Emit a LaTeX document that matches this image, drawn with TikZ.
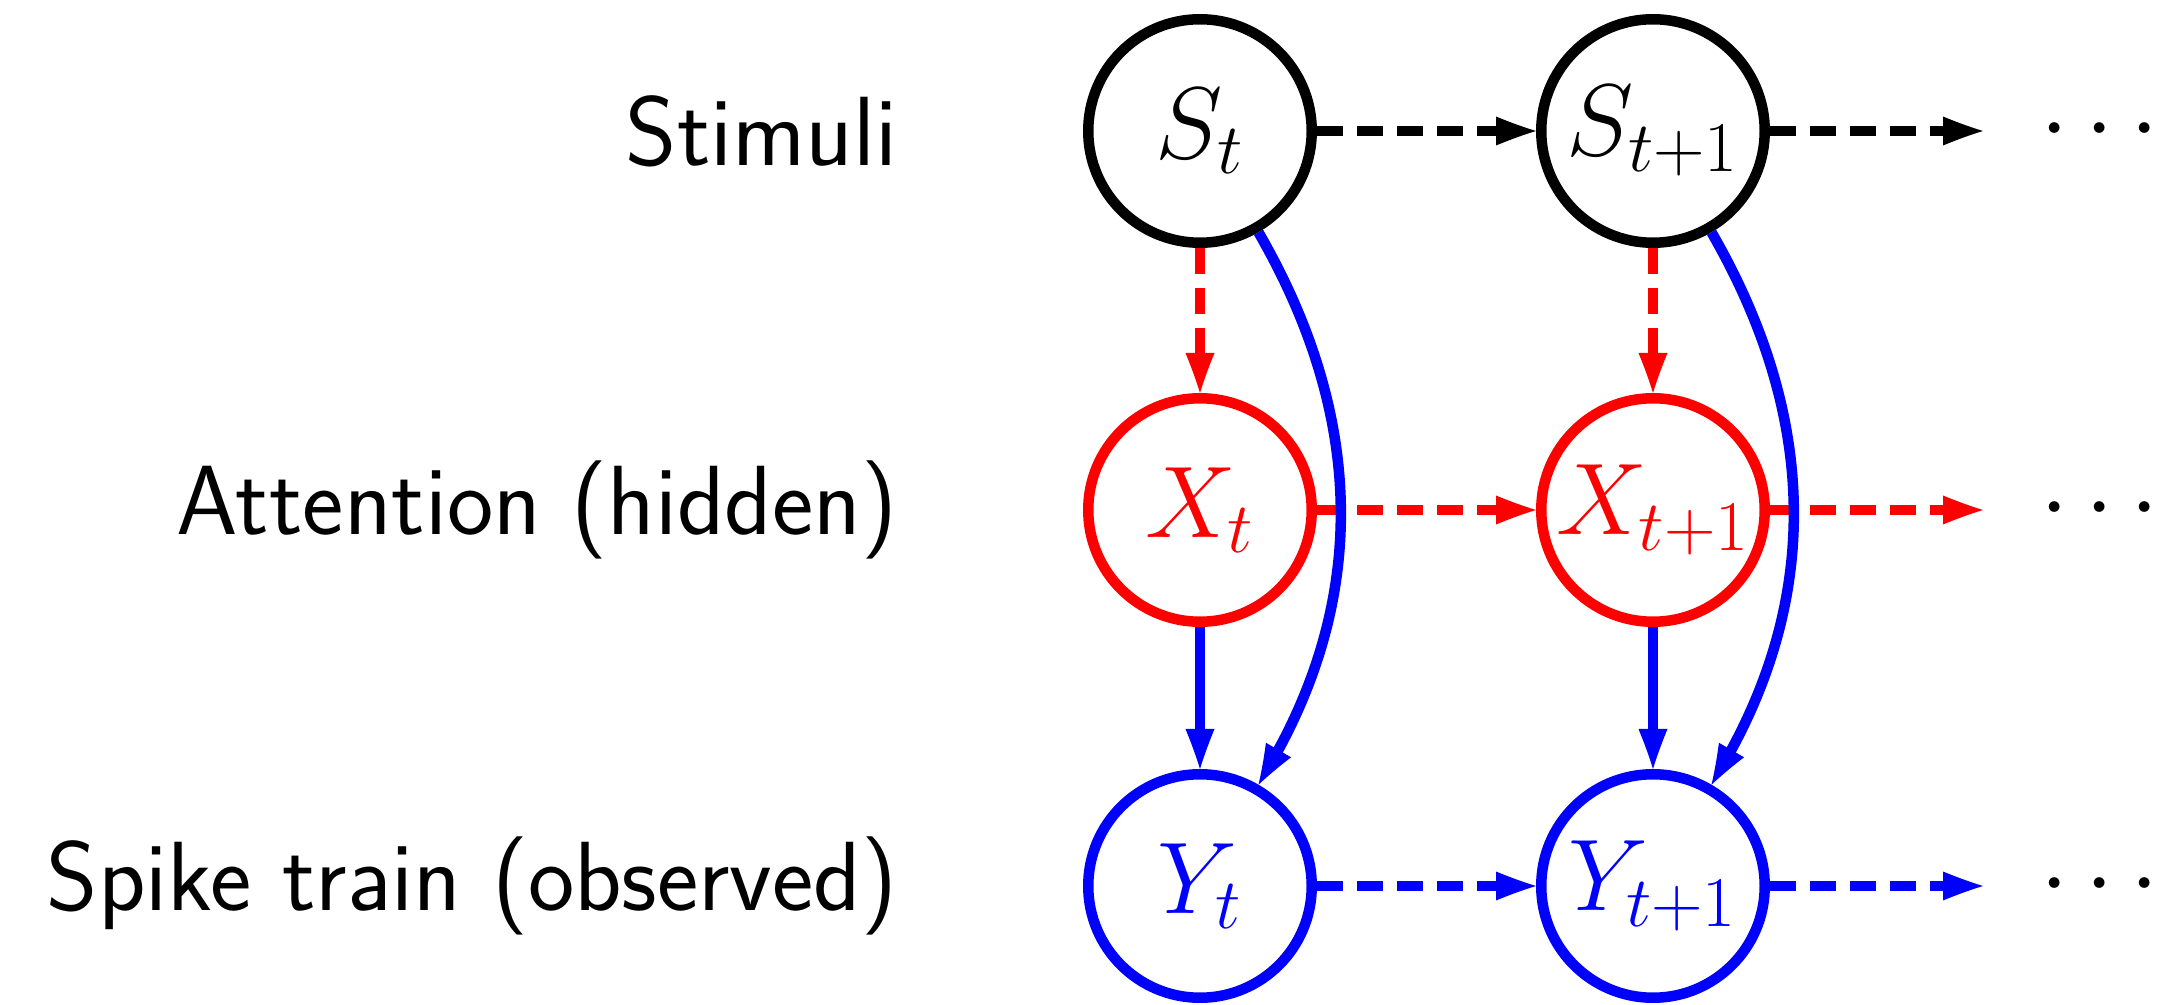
\RequirePackage{fix-cm}
\documentclass[tikz,border=0pt]{standalone}
\usetikzlibrary{arrows.meta}
\pgfdeclarearrow{
  name = ConcaveLatex,
  parameters = {\the\pgfarrowlength,\the\pgfarrowwidth},
  setup code = {
    \pgfarrowssettipend{0pt}
    \pgfarrowssetbackend{-\pgfarrowlength}
    \pgfarrowssetlineend{-.6\pgfarrowlength}
    \pgfarrowssetvisualbackend{-\pgfarrowlength}
    \pgfarrowssavethe\pgfarrowlength
    \pgfarrowssavethe\pgfarrowwidth
  },
  drawing code = {
    \pgfpathmoveto{\pgfqpoint{0pt}{0pt}}
    \pgfpathcurveto{\pgfqpoint{-.333\pgfarrowlength}{.14\pgfarrowwidth}}{\pgfqpoint{-.667\pgfarrowlength}{.31\pgfarrowwidth}}{\pgfqpoint{-\pgfarrowlength}{.5\pgfarrowwidth}}
    \pgfpathlineto{\pgfqpoint{-\pgfarrowlength}{-.5\pgfarrowwidth}}
    \pgfpathcurveto{\pgfqpoint{-.667\pgfarrowlength}{-.31\pgfarrowwidth}}{\pgfqpoint{-.333\pgfarrowlength}{-.14\pgfarrowwidth}}{\pgfqpoint{0pt}{0pt}}
    \pgfpathclose
    \pgfusepathqfill
  },
  defaults = {length=0.40cm, width=0.29cm}
}
\begin{document}
\begin{tikzpicture}[
  var/.style={circle, draw, line width=0.105cm, minimum size=2.235cm, inner sep=0pt, font=\fontsize{29}{35}\selectfont},
  ghost/.style={circle, minimum size=2.235cm, inner sep=0pt, outer sep=0.0525cm, font=\fontsize{29}{35}\selectfont},
  lbl/.style={anchor=east, inner sep=0pt, font=\fontsize{28}{34}\selectfont\sffamily},
  edge/.style={line width=0.105cm, -{ConcaveLatex}},
  dashedge/.style={edge, dash pattern=on 0.26cm off 0.14cm},
]
\useasboundingbox (0,0) rectangle (21.84,10.04);
% nodes
\node[var] (S1) at (12.00,8.73) {$S_t$};
\node[var] (S2) at (16.53,8.73) {$S_{t+1}$};
\node[ghost] (S3) at (21.00,8.73) {$\cdots$};
\node[var, red] (X1) at (12.00,4.94) {$X_t$};
\node[var, red] (X2) at (16.53,4.94) {$X_{t+1}$};
\node[ghost] (X3) at (21.00,4.94) {$\cdots$};
\node[var, blue] (Y1) at (12.00,1.18) {$Y_t$};
\node[var, blue] (Y2) at (16.53,1.18) {$Y_{t+1}$};
\node[ghost] (Y3) at (21.00,1.18) {$\cdots$};
% labels
\node[lbl] (L1) at (8.98,8.73) {Stimuli};
\node[lbl] (L2) at (8.98,4.94) {Attention (hidden)};
\node[lbl] (L3) at (8.98,1.18) {Spike train (observed)};
% edges
\draw[dashedge] (S1) -- (S2);
\draw[dashedge] (S2) -- (S3);
\draw[dashedge, red] (X1) -- (X2);
\draw[dashedge, red] (X2) -- (X3);
\draw[dashedge, blue] (Y1) -- (Y2);
\draw[dashedge, blue] (Y2) -- (Y3);
\draw[dashedge, red] (S1) -- (X1);
\draw[dashedge, red] (S2) -- (X2);
\draw[edge, blue] (X1) -- (Y1);
\draw[edge, blue] (X2) -- (Y2);
\draw[edge, blue] (S1) to[bend left=30] (Y1);
\draw[edge, blue] (S2) to[bend left=30] (Y2);
\end{tikzpicture}
\end{document}
